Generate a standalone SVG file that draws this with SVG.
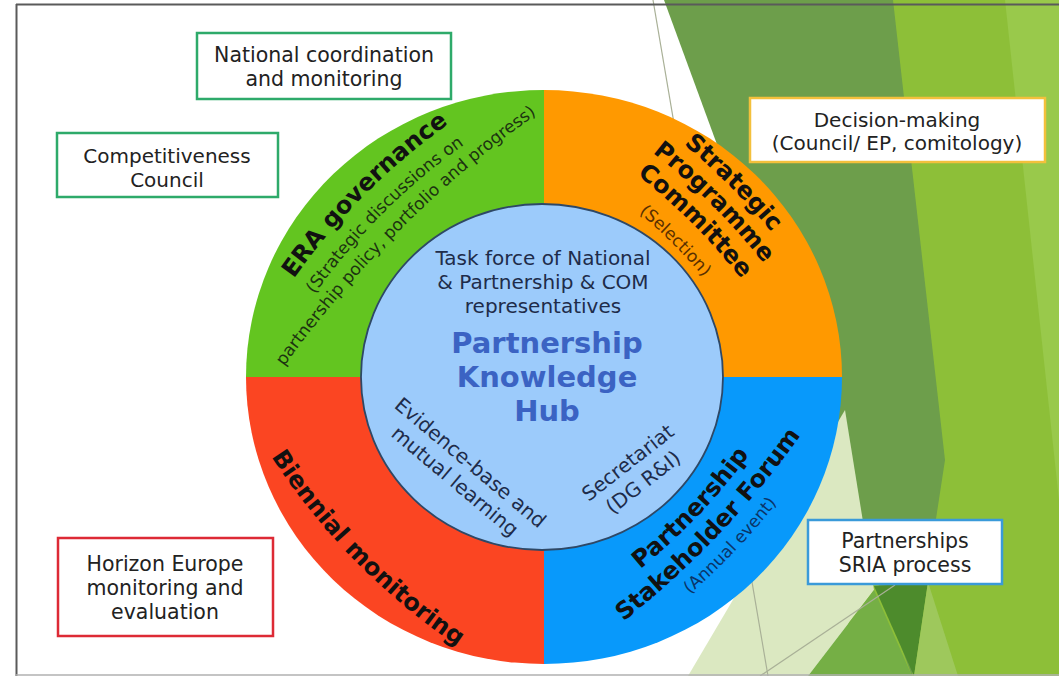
<svg xmlns="http://www.w3.org/2000/svg" width="1059" height="676" viewBox="0 0 1059 676">
<style>
.box{fill:#ffffff;stroke-width:2.5}
.bt{font-family:"DejaVu Sans",Verdana,sans-serif;fill:#222222;text-anchor:middle}
.ttl{font-family:"DejaVu Sans",Verdana,sans-serif;font-weight:bold;font-size:24px;fill:#111111}
.sub{font-family:"DejaVu Sans",Verdana,sans-serif;font-size:17px}
.inn{font-family:"DejaVu Sans",Verdana,sans-serif;font-size:20px;fill:#1e2c4a;text-anchor:middle}
.hub{font-family:"DejaVu Sans",Verdana,sans-serif;font-size:29px;font-weight:bold;fill:#3b63c3;text-anchor:middle}
.gl{stroke:#a9b097;stroke-width:1.2;fill:none}
</style>
<defs>
<path id="pG1" d="M182.0,545.8 A658,658 0 0 1 715.8,12.0"/>
<path id="pG2" d="M207.6,550.3 A632,632 0 0 1 720.3,37.6"/>
<path id="pG3" d="M180.9,542.9 A1100,1100 0 0 1 712.9,10.9"/>
<path id="pO1" d="M372.3,0.2 A670,670 0 0 1 915.8,543.7"/>
<path id="pO2" d="M367.8,25.8 A644,644 0 0 1 890.2,548.2"/>
<path id="pO3" d="M363.1,52.4 A617,617 0 0 1 863.6,552.9"/>
<path id="pO4" d="M358.3,80.0 A589,589 0 0 1 836.0,557.7"/>
<path id="pB1" d="M376.8,693.0 A611,611 0 0 0 860.2,185.3"/>
<path id="pB2" d="M395.4,752.0 A900,900 0 0 0 920.0,201.1"/>
<path id="pB3" d="M386.9,743.0 A662,662 0 0 0 910.6,193.0"/>
<path id="pR1" d="M173.1,203.9 A666,666 0 0 0 708.7,748.9"/>
</defs>
<rect x="0" y="0" width="1059" height="676" fill="#ffffff"/>
<g id="background">
<polygon points="890,0 1059,0 1059,676 845,676" fill="#8dbf38"/>
<polygon points="1005,0 1059,0 1059,500" fill="#99c94b"/>
<polygon points="664,0 893,0 945,460 912,676" fill="#6d9e4b"/>
<polygon points="688,676 845,410 874,590 808,676" fill="#dbe8c1"/>
<polygon points="808,676 874,590 912,676" fill="#75af45"/>
<polygon points="874,586 928,582 914,676" fill="#4d8b2c"/>
<polygon points="928,582 914,676 958,676" fill="#9ec85c"/>
<line class="gl" x1="653" y1="0" x2="768" y2="676"/>
<line class="gl" x1="760" y1="676" x2="895" y2="585"/>
</g>
<g id="frame">
<line x1="16" y1="4.5" x2="1059" y2="4.5" stroke="#5a5a5a" stroke-width="2"/>
<line x1="16.5" y1="4" x2="16.5" y2="676" stroke="#5a5a5a" stroke-width="2"/>
<line x1="16" y1="675" x2="1059" y2="675" stroke="#b0b0b0" stroke-width="1.5"/>
</g>
<g id="connectors"></g>
<g id="era-governance">
<path d="M544,377 L246,377 A298,287 0 0 1 544,90 Z" fill="#63c520"/>
<text class="ttl"><textPath href="#pG1" startOffset="50%" text-anchor="middle">ERA governance</textPath></text>
<text class="sub" fill="#1c3310"><textPath href="#pG2" startOffset="50%" text-anchor="middle">(Strategic discussions on</textPath></text>
<text class="sub" fill="#1c3310"><textPath href="#pG3" startOffset="50%" text-anchor="middle">partnership policy, portfolio and progress)</textPath></text>
</g>
<g id="strategic-programme-committee">
<path d="M544,377 L544,90 A298,287 0 0 1 842,377 Z" fill="#ff9900"/>
<text class="ttl"><textPath href="#pO1" startOffset="50%" text-anchor="middle">Strategic</textPath></text>
<text class="ttl"><textPath href="#pO2" startOffset="50%" text-anchor="middle">Programme</textPath></text>
<text class="ttl"><textPath href="#pO3" startOffset="50%" text-anchor="middle">Committee</textPath></text>
<text class="sub" fill="#5a3000"><textPath href="#pO4" startOffset="50%" text-anchor="middle">(Selection)</textPath></text>
</g>
<g id="partnership-stakeholder-forum">
<path d="M544,377 L842,377 A298,287 0 0 1 544,664 Z" fill="#0899fb"/>
<text class="ttl" font-size="25"><textPath href="#pB1" startOffset="50%" text-anchor="middle">Partnership</textPath></text>
<text class="ttl" font-size="25"><textPath href="#pB2" startOffset="50%" text-anchor="middle">Stakeholder Forum</textPath></text>
<text class="sub" fill="#0b3468"><textPath href="#pB3" startOffset="50%" text-anchor="middle">(Annual event)</textPath></text>
</g>
<g id="biennial-monitoring">
<path d="M544,377 L544,664 A298,287 0 0 1 246,377 Z" fill="#fb4522"/>
<text class="ttl"><textPath href="#pR1" startOffset="50%" text-anchor="middle">Biennial monitoring</textPath></text>
</g>
<g id="knowledge-hub">
<ellipse cx="542" cy="377" rx="181" ry="173" fill="#9ccbfb" stroke="#2e4866" stroke-width="1.8"/>
<text class="inn"><tspan x="543" y="265">Task force of National</tspan><tspan x="543" y="289">&amp; Partnership &amp; COM</tspan><tspan x="543" y="313">representatives</tspan></text>
<text class="hub"><tspan x="547" y="353">Partnership</tspan><tspan x="547" y="387">Knowledge</tspan><tspan x="547" y="421">Hub</tspan></text>
<text class="inn" transform="translate(466,468) rotate(40)"><tspan x="0" y="0">Evidence-base and</tspan><tspan x="0" y="24">mutual learning</tspan></text>
<text class="inn" transform="translate(632,468) rotate(-38)"><tspan x="0" y="0">Secretariat</tspan><tspan x="0" y="25">(DG R&amp;I)</tspan></text>
</g>
<g id="national-coordination">
<rect class="box" x="197" y="33" width="254" height="66" stroke="#2eaa6a"/>
<text class="bt" font-size="20.5"><tspan x="324" y="62">National coordination</tspan><tspan x="324" y="86">and monitoring</tspan></text>
</g>
<g id="competitiveness-council">
<rect class="box" x="57" y="133" width="221" height="64" stroke="#2eaa6a"/>
<text class="bt" font-size="20"><tspan x="167" y="163">Competitiveness</tspan><tspan x="167" y="187">Council</tspan></text>
</g>
<g id="decision-making">
<rect class="box" x="750" y="98" width="295" height="64" stroke="#f3c03c"/>
<text class="bt" font-size="20"><tspan x="897" y="127">Decision-making</tspan><tspan x="897" y="150">(Council/ EP, comitology)</tspan></text>
</g>
<g id="sria-process">
<rect class="box" x="808" y="520" width="194" height="64" stroke="#3a9ad9"/>
<text class="bt" font-size="20.5"><tspan x="905" y="548">Partnerships</tspan><tspan x="905" y="572">SRIA process</tspan></text>
</g>
<g id="horizon-europe">
<rect class="box" x="58" y="538" width="215" height="98" stroke="#dd2a35"/>
<text class="bt" font-size="20.5"><tspan x="165" y="571">Horizon Europe</tspan><tspan x="165" y="595">monitoring and</tspan><tspan x="165" y="619">evaluation</tspan></text>
</g>
</svg>
